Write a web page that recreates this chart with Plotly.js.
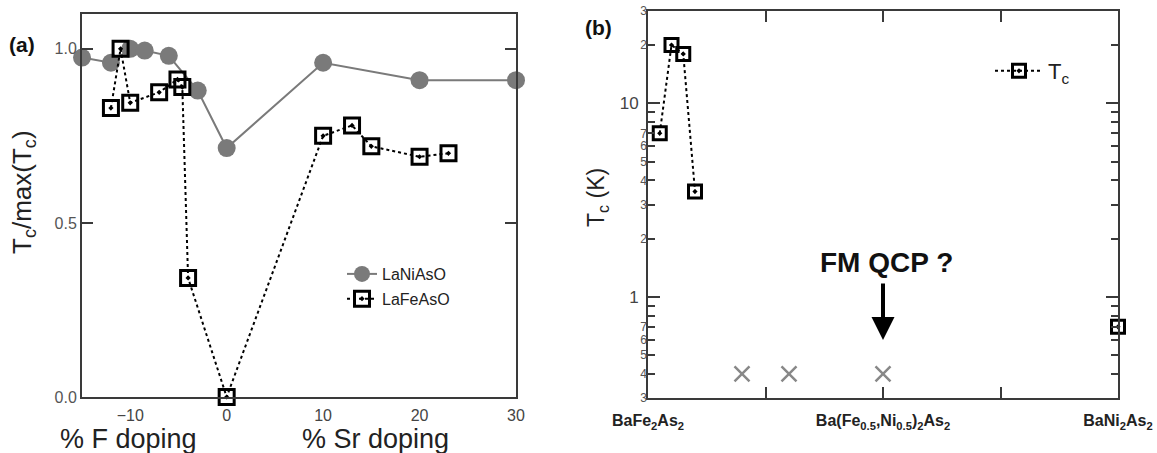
<!DOCTYPE html>
<html>
<head>
<meta charset="utf-8">
<script src="https://cdn.plot.ly/plotly-3.0.1.min.js"></script>
<style>
  html, body { margin: 0; padding: 0; background: #fff; }
  #chart { width: 1157px; height: 453px; }
</style>
</head>
<body>
<div id="chart"></div>
<script>
// ---- Panel (a) data ----
const niDoping = [-15, -12, -10, -8.5, -6, -3, 0, 10, 20, 30];
const niTc     = [0.975, 0.96, 1.0, 0.995, 0.98, 0.88, 0.715, 0.96, 0.91, 0.91];
const feDoping = [-12, -11, -10, -7, -5.1, -4.6, -4, 0, 10, 13, 15, 20, 23];
const feTc     = [0.83, 1.0, 0.845, 0.875, 0.912, 0.89, 0.342, 0.0, 0.75, 0.78, 0.72, 0.69, 0.70];
const aXTicks  = [-10, 0, 10, 20, 30];
const aYTicks  = [0, 0.5, 1.0];
const aYText   = ['0.0', '0.5', '1.0'];

// ---- Panel (b) data ----
const tcNi     = [0.025, 0.05, 0.075, 0.1];
const tcVal    = [7.0, 20, 18, 3.5];
const ni2X     = [1.0];
const ni2Tc    = [0.7];
const nonScX   = [0.2, 0.3, 0.5];
const nonScY   = [0.4, 0.4, 0.4];
const bXTicks  = [0, 0.25, 0.5, 0.75, 1];
const bXText   = ['<b>BaFe<sub>2</sub>As<sub>2</sub></b>', '', '<b>Ba(Fe<sub>0.5</sub>,Ni<sub>0.5</sub>)<sub>2</sub>As<sub>2</sub></b>', '', '<b>BaNi<sub>2</sub>As<sub>2</sub></b>'];
const bMajor   = [1, 10];
const bMajorTx = ['1', '10'];
const bMinor   = [0.4, 0.5, 0.6, 0.7, 0.8, 0.9, 2, 3, 4, 5, 6, 7, 8, 9, 20];
const bSmall   = [0.3, 0.4, 0.5, 0.6, 0.7, 2, 3, 4, 5, 6, 7, 20, 30];
const bSmallTx = ['3', '4', '5', '6', '7', '2', '3', '4', '5', '6', '7', '2', '3'];

const FONT = 'Liberation Sans, Arial, sans-serif';
const AX = '#3a3a3a';
const GRAY = '#7a7a7a';

const traces = [
  { x: niDoping, y: niTc, xaxis: 'x', yaxis: 'y', mode: 'lines+markers', name: 'LaNiAsO',
    legend: 'legend', legendgroup: 'a1', cliponaxis: false,
    line: { color: GRAY, width: 2 },
    marker: { symbol: 'circle', size: 18, color: GRAY } },
  { x: feDoping, y: feTc, xaxis: 'x', yaxis: 'y', mode: 'lines+markers', name: 'LaFeAsO',
    legend: 'legend', legendgroup: 'a2', cliponaxis: false,
    line: { color: '#000', width: 2, dash: 'dot' },
    marker: { symbol: 'square-open-dot', size: 15, color: '#000', line: { width: 3, color: '#000' } } },
  { x: tcNi, y: tcVal, xaxis: 'x2', yaxis: 'y2', mode: 'lines+markers', name: 'T<sub>c</sub>',
    legend: 'legend2', cliponaxis: false,
    line: { color: '#000', width: 2, dash: 'dot' },
    marker: { symbol: 'square-open-dot', size: 13, color: '#000', line: { width: 3, color: '#000' } } },
  { x: ni2X, y: ni2Tc, xaxis: 'x2', yaxis: 'y2', mode: 'markers', showlegend: false, cliponaxis: false,
    marker: { symbol: 'square-open-dot', size: 13, color: '#000', line: { width: 3, color: '#000' } } },
  { x: nonScX, y: nonScY, xaxis: 'x2', yaxis: 'y2', mode: 'markers', showlegend: false, cliponaxis: false,
    marker: { symbol: 'x-thin-open', size: 15, color: '#888', line: { width: 2.5, color: '#888' } } },
  { x: [], y: [], xaxis: 'x2', yaxis: 'y3', mode: 'markers', showlegend: false, hoverinfo: 'skip' }
];

function label(text, px, py, size, extra) {
  return Object.assign({
    text: text, x: px / 1157, y: 1 - py / 453, xref: 'paper', yref: 'paper',
    xanchor: 'center', yanchor: 'middle', showarrow: false,
    font: { size: size, color: '#222', family: FONT }
  }, extra || {});
}

const layout = {
  width: 1157, height: 453,
  margin: { l: 0, r: 0, t: 0, b: 0 },
  paper_bgcolor: '#fff', plot_bgcolor: '#fff',
  font: { family: FONT, color: '#222' },
  showlegend: true,
  xaxis: {
    domain: [82 / 1157, 516 / 1157], anchor: 'y', range: [-15, 30],
    showline: true, linecolor: AX, linewidth: 2, mirror: true,
    tickmode: 'array', tickvals: aXTicks, ticks: '', showgrid: false, zeroline: false,
    tickfont: { size: 16, color: '#444' }, ticklabelstandoff: 3
  },
  yaxis: {
    domain: [1 - 397 / 453, 1 - 14 / 453], anchor: 'x', range: [0, 1.1],
    showline: true, linecolor: AX, linewidth: 2, mirror: 'ticks',
    tickmode: 'array', tickvals: aYTicks, ticktext: aYText,
    ticks: 'inside', ticklen: 11, tickwidth: 2, tickcolor: AX,
    showgrid: false, zeroline: false,
    tickfont: { size: 16, color: '#555' }
  },
  xaxis2: {
    domain: [648 / 1157, 1118 / 1157], anchor: 'y2', range: [0, 1],
    showline: true, linecolor: AX, linewidth: 2, mirror: 'ticks',
    tickmode: 'array', tickvals: bXTicks, ticktext: bXText,
    ticks: 'inside', ticklen: 11, tickwidth: 2, tickcolor: AX,
    showgrid: false, zeroline: false,
    tickfont: { size: 16, color: '#222' }, ticklabelstandoff: 7
  },
  yaxis2: {
    domain: [1 - 398 / 453, 1 - 11 / 453], anchor: 'x2', type: 'log',
    range: [Math.log10(0.3), Math.log10(30)],
    showline: true, linecolor: AX, linewidth: 2, mirror: 'ticks',
    tickmode: 'array', tickvals: bMajor, ticktext: bMajorTx,
    ticks: 'inside', ticklen: 12, tickwidth: 2, tickcolor: AX,
    minor: { tickmode: 'array', tickvals: bMinor, ticks: 'inside', ticklen: 7, tickwidth: 2, tickcolor: AX },
    showgrid: false, zeroline: false,
    tickfont: { size: 17, color: '#444' }, ticklabelstandoff: 4
  },
  yaxis3: {
    overlaying: 'y2', anchor: 'x2', side: 'left', type: 'log',
    range: [Math.log10(0.3), Math.log10(30)],
    showline: false, ticks: '', showgrid: false, zeroline: false,
    tickmode: 'array', tickvals: bSmall, ticktext: bSmallTx,
    tickfont: { size: 12, color: '#555' }, ticklabelstandoff: 0
  },
  legend: {
    x: 342 / 1157, y: 1 - 257 / 453, xanchor: 'left', yanchor: 'top',
    bgcolor: 'rgba(0,0,0,0)', borderwidth: 0, traceorder: 'grouped', tracegroupgap: 1,
    font: { size: 16, color: '#222', family: FONT }, itemwidth: 30
  },
  legend2: {
    x: 990 / 1157, y: 1 - 50 / 453, xanchor: 'left', yanchor: 'top',
    bgcolor: 'rgba(0,0,0,0)', borderwidth: 0,
    font: { size: 22, color: '#222', family: FONT }, itemwidth: 48
  },
  annotations: [
    label('<b>(a)</b>', 22, 45, 21, { font: { size: 21, color: '#111', family: FONT } }),
    label('<b>(b)</b>', 598, 28, 21, { font: { size: 21, color: '#111', family: FONT } }),
    label('T<sub>c</sub>/max(T<sub>c</sub>)', 24, 192, 26, { textangle: -90 }),
    label('% F doping', 128, 439, 27),
    label('% Sr doping', 375, 439, 27),
    label('T<sub>c</sub> (K)', 597, 198, 23, { textangle: -90 }),
    label('<b>FM QCP ?</b>', 886, 262, 28, { font: { size: 28, color: '#111', family: FONT } }),
    { text: '', x: 883 / 1157, y: 1 - 340 / 453, xref: 'paper', yref: 'paper',
      ax: 883 / 1157, ay: 1 - 282 / 453, axref: 'paper', ayref: 'paper',
      showarrow: true, arrowhead: 2, arrowsize: 1.15, arrowwidth: 4, arrowcolor: '#000', standoff: 0 }
  ]
};

Plotly.newPlot('chart', traces, layout, { displayModeBar: false, staticPlot: true });
</script>
</body>
</html>
